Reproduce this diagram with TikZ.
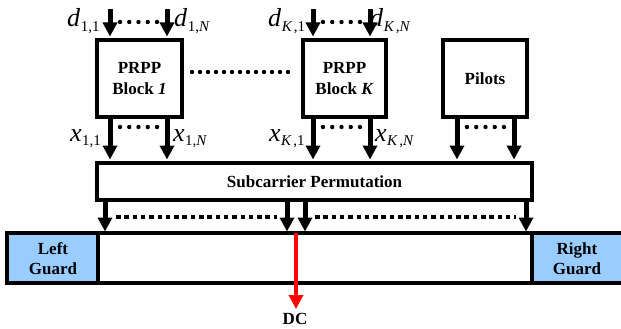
\documentclass[tikz,border=0pt]{standalone}
\usepackage{fontspec}
\setmainfont{Liberation Serif}
\usetikzlibrary{arrows.meta}
\definecolor{guardblue}{HTML}{99CCFF}
\newcommand{\mlab}[2]{{\fontsize{26}{26}\selectfont\textit{#1}}\kern0.5pt\raisebox{-4.5pt}{\fontsize{15}{15}\selectfont #2}}
\begin{document}
\begin{tikzpicture}[x=1pt,y=-1pt,
  blk/.style={draw,line width=4pt,fill=white,inner sep=0pt,align=center,
    font=\fontsize{17}{21}\selectfont\bfseries},
  arr/.style={line width=5pt,-{Triangle[length=14pt,width=14pt]}},
  redarr/.style={red,line width=4pt,-{Triangle[length=14pt,width=14pt]}},
  lab/.style={inner sep=0pt,anchor=base west},
  dashrow/.style={line width=4.5pt,dash pattern=on 4.5pt off 3.8pt},
  gtxt/.style={font=\fontsize{17}{20}\selectfont\bfseries,align=center}]
\useasboundingbox (0,0) rectangle (621,329);

% blocks
\node[blk,minimum width=85pt,minimum height=77pt] (b1) at (139.5,78.5) {PRPP\\Block \textit{1}};
\node[blk,minimum width=83pt,minimum height=77pt] (bK) at (344.5,78.5) {PRPP\\Block \textit{K}};
\node[blk,minimum width=84pt,minimum height=77pt] (pil) at (485,78.5) {Pilots};
\node[blk,minimum width=435pt,minimum height=37pt] (sub) at (314.5,181.5) {Subcarrier Permutation};

% bottom strip
\fill[guardblue] (7,233) rectangle (98,283);
\fill[guardblue] (532,233) rectangle (625,283);
\draw[line width=4.5pt] (625,233) -- (7,233) -- (7,283) -- (625,283);
\draw[line width=4pt] (98,233) -- (98,283);
\draw[line width=4pt] (532,233) -- (532,283);
\node[gtxt] (lg) at (53,259) {Left\\Guard};
\node[gtxt] (rg) at (577,259) {Right\\Guard};
\coordinate (stripc) at (296,233);

% input arrows
\coordinate (i11) at (110,9);
\coordinate (i1N) at (167,9);
\coordinate (iK1) at (313,9);
\coordinate (iKN) at (370,9);
\draw[arr,shorten >=1.5pt] (i11) -- (i11 |- b1.north);
\draw[arr,shorten >=1.5pt] (i1N) -- (i1N |- b1.north);
\draw[arr,shorten >=1.5pt] (iK1) -- (iK1 |- bK.north);
\draw[arr,shorten >=1.5pt] (iKN) -- (iKN |- bK.north);

% block to permutation arrows
\foreach \x/\b in {110/b1,167/b1,313/bK,370/bK,457/pil,514/pil}{
  \draw[arr,shorten >=1.5pt] (\x,0 |- \b.south) -- (\x,0 |- sub.north);
}

% permutation to strip arrows
\foreach \x in {105,287,305,526}{
  \draw[arr,shorten >=1.5pt] (\x,0 |- sub.south) -- (\x,0 |- stripc);
}

% DC arrow
\coordinate (dc) at (296,309);
\draw[redarr] (stripc) -- (dc);
\node[font=\fontsize{17}{20}\selectfont\bfseries,anchor=north] (dctxt) at (295,310) {DC};

% labels
\node[lab] (d11) at (67,27) {\mlab{d}{1,1}};
\node[lab] (d1N) at (174,27) {\mlab{d}{1,\textit{N}}};
\node[lab] (dK1) at (268,27) {\mlab{d}{\textit{K}\kern1.5pt,1}};
\node[lab] (dKN) at (370,27) {\mlab{d}{\textit{K}\kern1.5pt,\textit{N}}};
\node[lab] (x11) at (70,141) {\mlab{x}{1,1}};
\node[lab] (x1N) at (173,141) {\mlab{x}{1,\textit{N}}};
\node[lab] (xK1) at (269,141) {\mlab{x}{\textit{K}\kern1.5pt,1}};
\node[lab] (xKN) at (375,141) {\mlab{x}{\textit{K}\kern1.5pt,\textit{N}}};

% dot rows
\foreach \i in {0,...,4}{
  \fill (120+9.25*\i,22) circle (2.2pt);
  \fill (323+9.25*\i,22) circle (2.2pt);
  \fill (120+9.25*\i,127) circle (2.2pt);
  \fill (323+9.25*\i,127) circle (2.2pt);
  \fill (467+9.25*\i,127) circle (2.2pt);
}
\foreach \i in {0,...,12}{
  \fill (192+8*\i,72) circle (2.2pt);
}
% dashed rows
\draw[dashrow] (116,217) -- (277,217);
\draw[dashrow] (315,217) -- (516,217);
\end{tikzpicture}
\end{document}
